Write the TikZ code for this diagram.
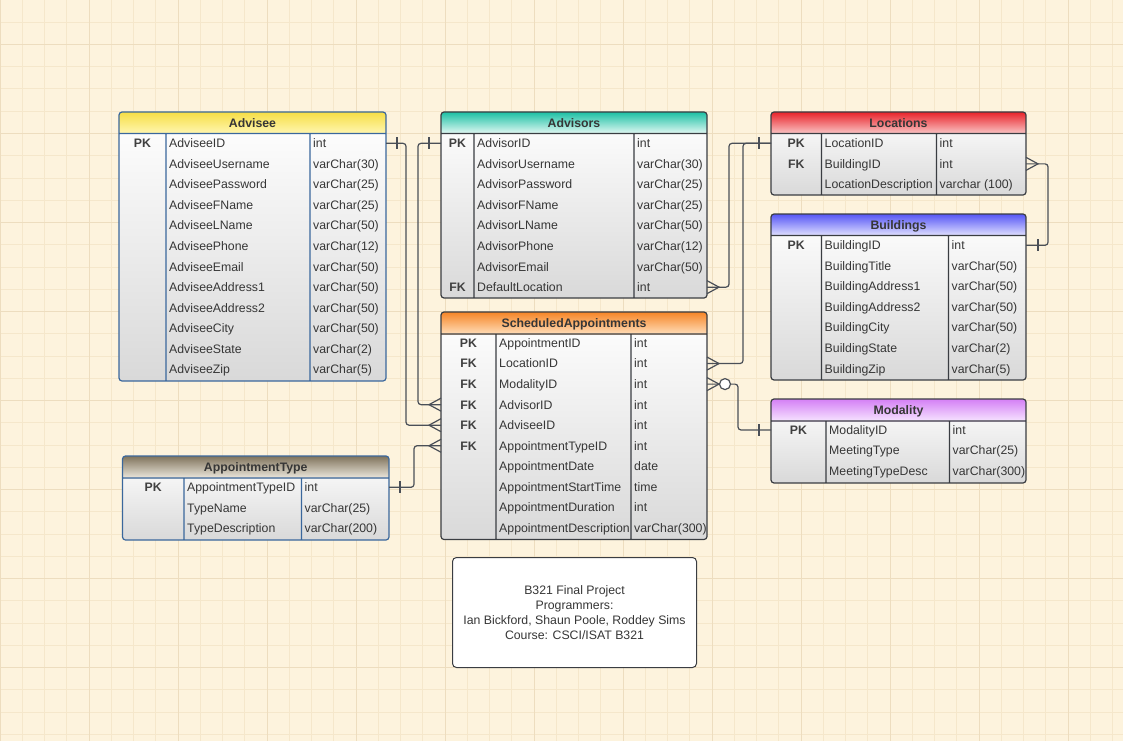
\documentclass[tikz,border=0pt]{standalone}
\usepackage{fontspec}
\setmainfont{Liberation Sans}
\usetikzlibrary{positioning}

\definecolor{paper}{HTML}{FDF3DD}
\definecolor{gridminor}{HTML}{F5E7CB}
\definecolor{gridmajor}{HTML}{EDDDBF}
\definecolor{bluebd}{HTML}{3A679C}
\definecolor{darkbd}{HTML}{3A3D42}
\definecolor{txt}{HTML}{363636}
\definecolor{keytxt}{HTML}{404040}
\definecolor{wire}{HTML}{4A4F57}
\definecolor{advtop}{HTML}{F6DE45}
\definecolor{advbot}{HTML}{FFF6B0}
\definecolor{advrtop}{HTML}{1CC0A4}
\definecolor{advrbot}{HTML}{E2F8F3}
\definecolor{loctop}{HTML}{E8232A}
\definecolor{locbot}{HTML}{FAC4C4}
\definecolor{bldtop}{HTML}{5656F5}
\definecolor{bldbot}{HTML}{E0E0FF}
\definecolor{satop}{HTML}{F68526}
\definecolor{sabot}{HTML}{FFDDB8}
\definecolor{modtop}{HTML}{D47FF5}
\definecolor{modbot}{HTML}{F6E3FF}
\definecolor{apttop}{HTML}{7F735C}
\definecolor{aptbot}{HTML}{ECE7DC}

\begin{document}
\begin{tikzpicture}
[x=1pt,y=-1pt,
 tbl/.style={shape=rectangle,rounded corners=3pt,outer sep=0pt,inner sep=0pt,
   top color=white,bottom color=black!15,anchor=north west},
 ttl/.style={font=\fontsize{12.3}{14}\selectfont\bfseries,text=txt,inner sep=0pt,text height=8.8pt,text depth=0pt},
 fld/.style={font=\fontsize{12.3}{14}\selectfont,text=txt,anchor=west,inner sep=0pt,text height=8.8pt,text depth=0pt},
 pkcol/.style={fld,anchor=center,font=\fontsize{12.3}{14}\selectfont\bfseries,text=keytxt},
 colline/.style={line width=1.2pt,rounded corners=3pt},
 link/.style={draw=wire,line width=1.2pt,rounded corners=3pt},
 crowfoot/.style={draw=wire,line width=1.2pt},
 notebox/.style={shape=rectangle,draw=darkbd,fill=white,rounded corners=4pt,line width=1pt,
   align=center,font=\fontsize{12.3}{15}\selectfont,text=txt,anchor=north west}]

% paper and grid
\useasboundingbox (0,0) rectangle (1123,741);
\fill [paper] (0,0) rectangle (1123,741);
\foreach \x in {0,22.25,...,1124} \draw [gridminor,line width=1pt] (\x,0) -- (\x,741);
\foreach \y in {0,22.25,...,742} \draw [gridminor,line width=1pt] (0,\y) -- (1123,\y);
\foreach \x in {0,89,...,1124} \draw [gridmajor,line width=1pt] (\x,0) -- (\x,741);
\foreach \y in {44.5,133.5,...,742} \draw [gridmajor,line width=1pt] (0,\y) -- (1123,\y);

% Advisee
\node (adv) [tbl,minimum width=267pt,minimum height=269pt] at (119,112) {};
\begin{scope}
  \clip [rounded corners=3pt] (adv.north west) rectangle (adv.south east);
  \shade [top color=advtop,bottom color=advbot] (adv.north west) rectangle (386,133.5);
\end{scope}
\draw [colline,draw=bluebd] (adv.north west) rectangle (adv.south east)
  (119,133.5) -- (386,133.5) (166,133.5) -- (166,381) (310,133.5) -- (310,381);
\node (adv-title) [ttl] at (252.5,122.75) {Advisee};
\foreach \k/\f/\t [count=\i] in {PK/AdviseeID/int,/AdviseeUsername/varChar(30),/AdviseePassword/varChar(25),
  /AdviseeFName/varChar(25),/AdviseeLName/varChar(50),/AdviseePhone/varChar(12),/AdviseeEmail/varChar(50),
  /AdviseeAddress1/varChar(50),/AdviseeAddress2/varChar(50),/AdviseeCity/varChar(50),/AdviseeState/varChar(2),
  /AdviseeZip/varChar(5)}
 {\node (adv-k\i) [pkcol] at (142.5,{122.75+20.55*\i}) {\k};
  \node (adv-\i) [fld] at (169,{122.75+20.55*\i}) {\f};
  \node (adv-t\i) [fld] at (313,{122.75+20.55*\i}) {\t};}

% Advisors
\node (advr) [tbl,minimum width=266pt,minimum height=186pt] at (441,112) {};
\begin{scope}
  \clip [rounded corners=3pt] (advr.north west) rectangle (advr.south east);
  \shade [top color=advrtop,bottom color=advrbot] (advr.north west) rectangle (707,133.5);
\end{scope}
\draw [colline,draw=darkbd] (advr.north west) rectangle (advr.south east)
  (441,133.5) -- (707,133.5) (474,133.5) -- (474,298) (634,133.5) -- (634,298);
\node (advr-title) [ttl] at (574,122.75) {Advisors};
\foreach \k/\f/\t [count=\i] in {PK/AdvisorID/int,/AdvisorUsername/varChar(30),/AdvisorPassword/varChar(25),
  /AdvisorFName/varChar(25),/AdvisorLName/varChar(50),/AdvisorPhone/varChar(12),/AdvisorEmail/varChar(50),
  FK/DefaultLocation/int}
 {\node (advr-k\i) [pkcol] at (457.5,{122.75+20.55*\i}) {\k};
  \node (advr-\i) [fld] at (477,{122.75+20.55*\i}) {\f};
  \node (advr-t\i) [fld] at (637,{122.75+20.55*\i}) {\t};}

% Locations
\node (loc) [tbl,minimum width=255pt,minimum height=83pt] at (771,112) {};
\begin{scope}
  \clip [rounded corners=3pt] (loc.north west) rectangle (loc.south east);
  \shade [top color=loctop,bottom color=locbot] (loc.north west) rectangle (1026,133.5);
\end{scope}
\draw [colline,draw=darkbd] (loc.north west) rectangle (loc.south east)
  (771,133.5) -- (1026,133.5) (821.5,133.5) -- (821.5,195) (936.5,133.5) -- (936.5,195);
\node (loc-title) [ttl] at (898.5,122.75) {Locations};
\foreach \k/\f/\t [count=\i] in {PK/LocationID/int,FK/BuildingID/int,/LocationDescription/varchar (100)}
 {\node (loc-k\i) [pkcol] at (796.25,{122.75+20.55*\i}) {\k};
  \node (loc-\i) [fld] at (824.5,{122.75+20.55*\i}) {\f};
  \node (loc-t\i) [fld] at (939.5,{122.75+20.55*\i}) {\t};}

% Buildings
\node (bld) [tbl,minimum width=255pt,minimum height=166pt] at (771,214) {};
\begin{scope}
  \clip [rounded corners=3pt] (bld.north west) rectangle (bld.south east);
  \shade [top color=bldtop,bottom color=bldbot] (bld.north west) rectangle (1026,235.5);
\end{scope}
\draw [colline,draw=darkbd] (bld.north west) rectangle (bld.south east)
  (771,235.5) -- (1026,235.5) (821.5,235.5) -- (821.5,380) (948.5,235.5) -- (948.5,380);
\node (bld-title) [ttl] at (898.5,224.75) {Buildings};
\foreach \k/\f/\t [count=\i] in {PK/BuildingID/int,/BuildingTitle/varChar(50),/BuildingAddress1/varChar(50),
  /BuildingAddress2/varChar(50),/BuildingCity/varChar(50),/BuildingState/varChar(2),/BuildingZip/varChar(5)}
 {\node (bld-k\i) [pkcol] at (796.25,{224.75+20.55*\i}) {\k};
  \node (bld-\i) [fld] at (824.5,{224.75+20.55*\i}) {\f};
  \node (bld-t\i) [fld] at (951.5,{224.75+20.55*\i}) {\t};}

% ScheduledAppointments
\node (sa) [tbl,minimum width=266pt,minimum height=227.5pt] at (441,312) {};
\begin{scope}
  \clip [rounded corners=3pt] (sa.north west) rectangle (sa.south east);
  \shade [top color=satop,bottom color=sabot] (sa.north west) rectangle (707,334);
\end{scope}
\draw [colline,draw=darkbd] (sa.north west) rectangle (sa.south east)
  (441,334) -- (707,334) (496,334) -- (496,539.5) (631,334) -- (631,539.5);
\node (sa-title) [ttl] at (574,323) {ScheduledAppointments};
\foreach \k/\f/\t [count=\i] in {PK/AppointmentID/int,FK/LocationID/int,FK/ModalityID/int,FK/AdvisorID/int,
  FK/AdviseeID/int,FK/AppointmentTypeID/int,/AppointmentDate/date,/AppointmentStartTime/time,
  /AppointmentDuration/int,/AppointmentDescription/varChar(300)}
 {\node (sa-k\i) [pkcol] at (468.5,{322.45+20.55*\i}) {\k};
  \node (sa-\i) [fld] at (499,{322.45+20.55*\i}) {\f};
  \node (sa-t\i) [fld] at (634,{322.45+20.55*\i}) {\t};}

% Modality
\node (mod) [tbl,minimum width=255pt,minimum height=84pt] at (771,399) {};
\begin{scope}
  \clip [rounded corners=3pt] (mod.north west) rectangle (mod.south east);
  \shade [top color=modtop,bottom color=modbot] (mod.north west) rectangle (1026,421);
\end{scope}
\draw [colline,draw=darkbd] (mod.north west) rectangle (mod.south east)
  (771,421) -- (1026,421) (826,421) -- (826,483) (949.5,421) -- (949.5,483);
\node (mod-title) [ttl] at (898.5,410) {Modality};
\foreach \k/\f/\t [count=\i] in {PK/ModalityID/int,/MeetingType/varChar(25),/MeetingTypeDesc/varChar(300)}
 {\node (mod-k\i) [pkcol] at (798.5,{409.45+20.55*\i}) {\k};
  \node (mod-\i) [fld] at (829,{409.45+20.55*\i}) {\f};
  \node (mod-t\i) [fld] at (952.5,{409.45+20.55*\i}) {\t};}

% AppointmentType
\node (apt) [tbl,minimum width=266.5pt,minimum height=84pt] at (122.5,456) {};
\begin{scope}
  \clip [rounded corners=3pt] (apt.north west) rectangle (apt.south east);
  \shade [top color=apttop,bottom color=aptbot] (apt.north west) rectangle (389,478);
\end{scope}
\draw [colline,draw=bluebd] (apt.north west) rectangle (apt.south east)
  (122.5,478) -- (389,478) (184,478) -- (184,540) (301.5,478) -- (301.5,540);
\node (apt-title) [ttl] at (255.75,467) {AppointmentType};
\foreach \k/\f/\t [count=\i] in {PK/AppointmentTypeID/int,/TypeName/varChar(25),/TypeDescription/varChar(200)}
 {\node (apt-k\i) [pkcol] at (153.25,{466.75+20.55*\i}) {\k};
  \node (apt-\i) [fld] at (187,{466.75+20.55*\i}) {\f};
  \node (apt-t\i) [fld] at (304.5,{466.75+20.55*\i}) {\t};}

% project note
\node (note) [notebox,minimum width=244pt,minimum height=110pt] at (452,557)
  {B321 Final Project\\Programmers:\\Ian Bickford, Shaun Poole, Roddey Sims\\Course: CSCI/ISAT B321};

% relationships
\draw [link] (adv.east |- adv-1) -- ++(20,0) |- (sa.west |- sa-5);
\draw [crowfoot] (adv.east |- adv-1) ++(11,-6) -- ++(0,12);
\draw [crowfoot] (sa.west |- sa-5) ++(0,-6.5) -- ++(-12,6.5) -- ++(12,6.5);

\draw [link] (advr.west |- advr-1) -- ++(-23,0) |- (sa.west |- sa-4);
\draw [crowfoot] (advr.west |- advr-1) ++(-12,-6) -- ++(0,12);
\draw [crowfoot] (sa.west |- sa-4) ++(0,-6.5) -- ++(-12,6.5) -- ++(12,6.5);

\draw [link] (apt.east |- apt-1) -- ++(25,0) |- (sa.west |- sa-6);
\draw [crowfoot] (apt.east |- apt-1) ++(11,-6) -- ++(0,12);
\draw [crowfoot] (sa.west |- sa-6) ++(0,-6.5) -- ++(-12,6.5) -- ++(12,6.5);

\draw [link] (loc.west |- loc-1) -- ++(-42,0) |- (advr.east |- advr-8);
\draw [link] (loc.west |- loc-1) -- ++(-28,0) |- (sa.east |- sa-2);
\draw [crowfoot] (loc.west |- loc-1) ++(-12,-6) -- ++(0,12);
\draw [crowfoot] (advr.east |- advr-8) ++(0,-6.5) -- ++(12,6.5) -- ++(-12,6.5);
\draw [crowfoot] (sa.east |- sa-2) ++(0,-6.5) -- ++(12,6.5) -- ++(-12,6.5);

\draw [link] (loc.east |- loc-2) -- ++(22,0) |- (bld.east |- bld-1);
\draw [crowfoot] (loc.east |- loc-2) ++(0,-6.5) -- ++(12,6.5) -- ++(-12,6.5);
\draw [crowfoot] (bld.east |- bld-1) ++(12,-6) -- ++(0,12);

\draw [link] (sa.east |- sa-3) -- ++(31,0) |- (mod.west |- mod-1);
\draw [crowfoot] (sa.east |- sa-3) ++(0,-6.5) -- ++(12,6.5) -- ++(-12,6.5);
\draw [crowfoot,fill=white] (sa.east |- sa-3) ++(18,0) circle [radius=5.5];
\draw [crowfoot] (mod.west |- mod-1) ++(-12,-6) -- ++(0,12);
\end{tikzpicture}
\end{document}
